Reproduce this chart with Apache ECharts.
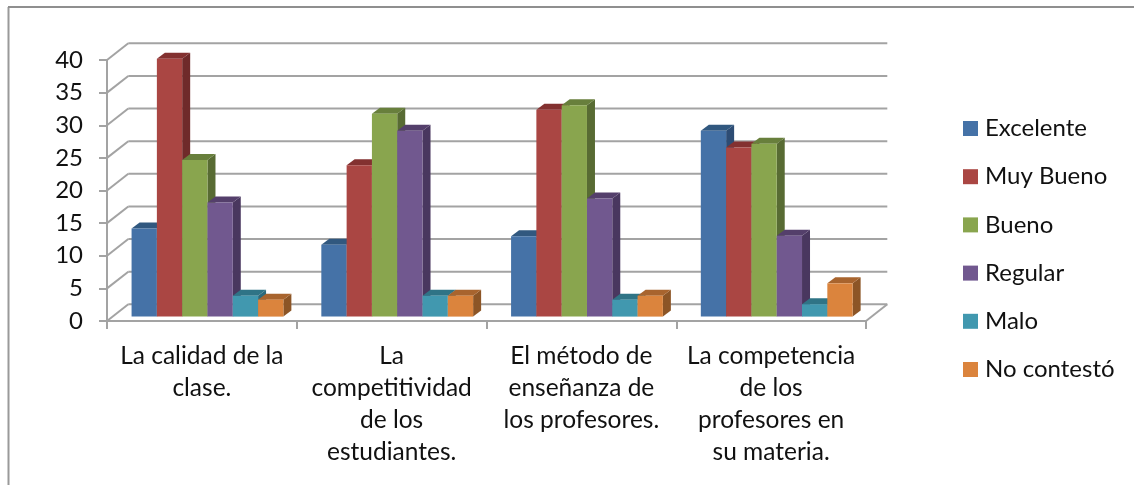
<!DOCTYPE html>
<html><head><meta charset="utf-8">
<style>html,body{margin:0;padding:0;background:#fff}#c{width:1134px;height:485px}</style>
<script src="https://cdn.jsdelivr.net/npm/echarts@6/dist/echarts.min.js"></script>
</head><body><div id="c"></div>
<script>
var categories = ['La calidad de la\nclase.', 'La\ncompetitividad\nde los\nestudiantes.', 'El método de\nenseñanza de\nlos profesores.', 'La competencia\nde los\nprofesores en\nsu materia.'];
var excelente = [13.5, 11.0, 12.3, 28.5];
var muyBueno  = [39.5, 23.2, 31.7, 25.9];
var bueno     = [24.0, 31.1, 32.4, 26.5];
var regular   = [17.5, 28.5, 18.1, 12.4];
var malo      = [3.2, 3.2, 2.6, 1.9];
var noContesto = [2.6, 3.2, 3.2, 5.1];
var yTicks = [0, 5, 10, 15, 20, 25, 30, 35, 40];

var seriesDefs = [
  {name: 'Excelente', values: excelente, face: '#4572A7', top: '#31587F', side: '#2D4C74'},
  {name: 'Muy Bueno', values: muyBueno, face: '#AA4643', top: '#833130', side: '#6F2A2A'},
  {name: 'Bueno', values: bueno, face: '#89A54E', top: '#687F3C', side: '#586B33'},
  {name: 'Regular', values: regular, face: '#71588F', top: '#543F6B', side: '#49375F'},
  {name: 'Malo', values: malo, face: '#4198AF', top: '#2F7486', side: '#2B6A7C'},
  {name: 'No contestó', values: noContesto, face: '#DB843D', top: '#A8642E', side: '#8C5526'}
];

var FONT = 'Lato, "Open Sans", sans-serif';
var WALL_DX = 21.3, WALL_DY = -16.7;   // depth of the floor in the oblique view
var BAR_DX = 8, BAR_DY = -6;           // depth of each bar
var BAR_OFF_DX = 5.6, BAR_OFF_DY = -4.4; // bars stand this far back from the front edge
var GAP = 0.2;                         // share of band left empty
var LINE = '#A3A3A3';

function wallItem(params, api) {
  var band = api.size([1, 0])[0];
  var v = api.value(1);
  var first = api.coord([0, v]);
  var last = api.coord([categories.length - 1, v]);
  var x0 = first[0] - band / 2, x1 = last[0] + band / 2, y = first[1];
  var st = {stroke: LINE, lineWidth: 2};
  var kids = [
    {type: 'line', shape: {x1: x0, y1: y, x2: x0 + WALL_DX, y2: y + WALL_DY}, style: st},
    {type: 'line', shape: {x1: x0 + WALL_DX, y1: y + WALL_DY, x2: x1 + WALL_DX, y2: y + WALL_DY}, style: st}
  ];
  if (v === 0) {
    kids.push({type: 'line', shape: {x1: x1, y1: y, x2: x1 + WALL_DX, y2: y + WALL_DY}, style: st});
  }
  return {type: 'group', children: kids};
}

function barRenderer(idx, def) {
  return function (params, api) {
    var band = api.size([1, 0])[0];
    var w = band * (1 - GAP) / seriesDefs.length;
    var base = api.coord([api.value(0), 0]);
    var top = api.coord([api.value(0), api.value(1)]);
    var x = base[0] - band * (1 - GAP) / 2 + idx * w + BAR_OFF_DX;
    var yB = base[1] + BAR_OFF_DY, yT = top[1] + BAR_OFF_DY;
    return {type: 'group', children: [
      {type: 'polygon', shape: {points: [[x + w, yT], [x + w + BAR_DX, yT + BAR_DY], [x + w + BAR_DX, yB + BAR_DY], [x + w, yB]]}, style: {fill: def.side}},
      {type: 'polygon', shape: {points: [[x, yT], [x + BAR_DX, yT + BAR_DY], [x + w + BAR_DX, yT + BAR_DY], [x + w, yT]]}, style: {fill: def.top}},
      {type: 'rect', shape: {x: x, y: yT, width: w, height: yB - yT}, style: {fill: def.face}}
    ]};
  };
}

var series = [{
  type: 'custom', silent: true, z: 1, renderItem: wallItem, animation: false,
  encode: {x: 0, y: 1}, data: yTicks.map(function (v) { return [0, v]; })
}].concat(seriesDefs.map(function (def, i) {
  return {
    type: 'custom', name: def.name, z: 2 + i, renderItem: barRenderer(i, def), animation: false,
    itemStyle: {color: def.face}, encode: {x: 0, y: 1},
    data: def.values.map(function (v, c) { return [c, v]; })
  };
}));

var chart = echarts.init(document.getElementById('c'), null, {renderer: 'canvas'});
chart.setOption({
  animation: false,
  backgroundColor: '#fff',
  graphic: [
    {type: 'line', shape: {x1: 8.5, y1: 7, x2: 8.5, y2: 485}, style: {stroke: '#9A9A9A', lineWidth: 2}, silent: true},
    {type: 'line', shape: {x1: 8, y1: 7, x2: 1134, y2: 7}, style: {stroke: '#8F8F8F', lineWidth: 2}, silent: true}
  ],
  grid: {left: 107, right: 268, top: 60, bottom: 164},
  xAxis: {
    type: 'category', data: categories, boundaryGap: true,
    axisLine: {show: true, lineStyle: {color: LINE, width: 2}},
    axisTick: {show: true, length: 8, alignWithLabel: false, interval: 0, lineStyle: {color: LINE, width: 2}},
    axisLabel: {interval: 0, margin: 19, fontFamily: FONT, fontSize: 24.5, lineHeight: 32, color: '#111', hideOverlap: false},
    splitLine: {show: false}
  },
  yAxis: {
    type: 'value', min: 0, max: 40, interval: 5,
    axisLine: {show: true, lineStyle: {color: LINE, width: 2}},
    axisTick: {show: true, length: 8, lineStyle: {color: LINE, width: 2}},
    axisLabel: {margin: 24, fontFamily: FONT, fontSize: 24, color: '#111', padding: [3, 0, 0, 0]},
    splitLine: {show: false}
  },
  legend: {
    show: true, orient: 'vertical', left: 963, top: 116.5, padding: 0, itemWidth: 15, itemHeight: 15, itemGap: 24.2,
    icon: 'rect', selectedMode: false,
    data: seriesDefs.map(function (d) { return d.name; }),
    textStyle: {fontFamily: FONT, fontSize: 24, color: '#111', padding: [0, 0, 0, 2], lineHeight: 15, height: 15}
  },
  series: series
});
</script></body></html>
